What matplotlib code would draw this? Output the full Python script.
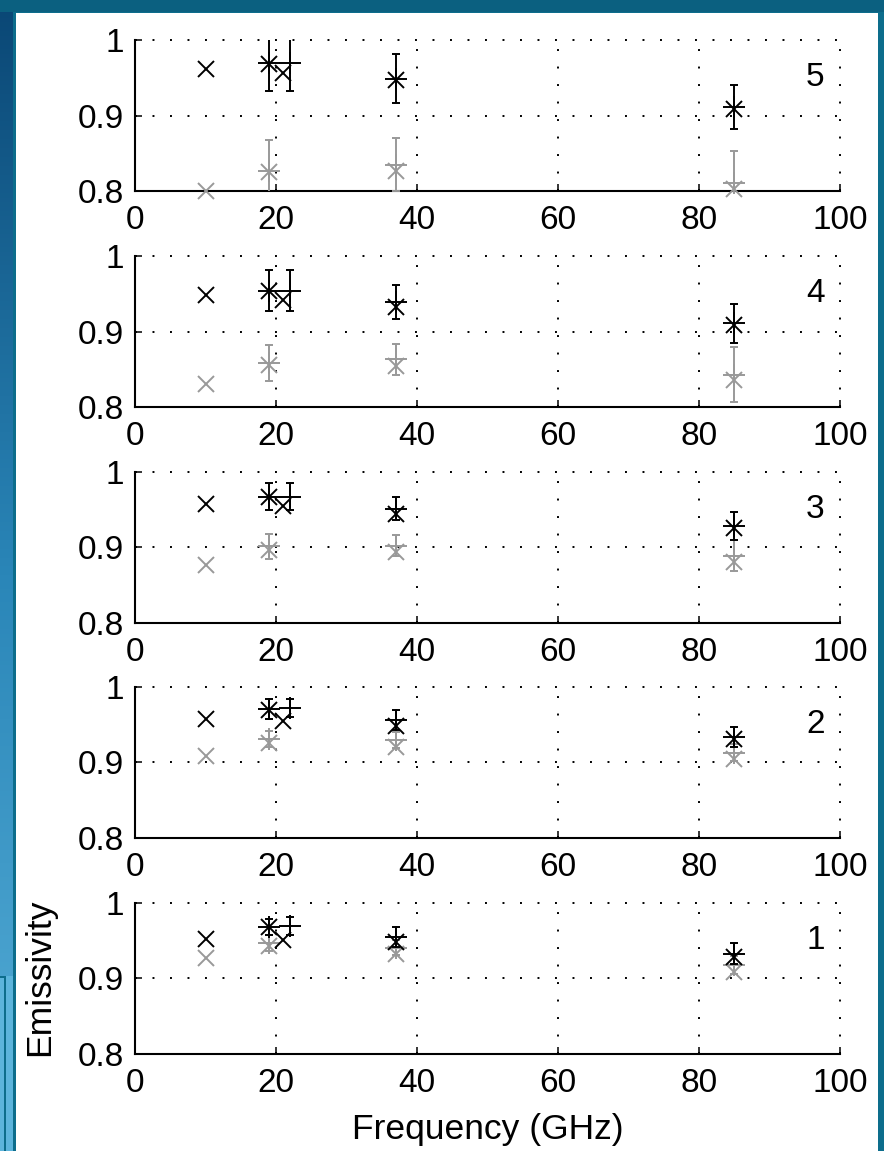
import numpy as np
import matplotlib
matplotlib.use("Agg")
import matplotlib.pyplot as plt
from matplotlib.colors import LinearSegmentedColormap

plt.rcParams['font.family'] = ['Liberation Sans', 'DejaVu Sans']

# ---------------- data ----------------
freq_x_v = [10, 19, 21, 37, 85]      # 'x' markers, vertical pol (black)
freq_x_h = [10, 19, 37, 85]          # 'x' markers, horizontal pol (gray)
freq_p_v = [19, 22, 37, 85]          # '+' with error bars, black
freq_p_h = [19, 37, 85]              # '+' with error bars, gray

panel_ids = [5, 4, 3, 2, 1]

xv = {1: [0.952, 0.968, 0.951, 0.949, 0.928],
      2: [0.958, 0.970, 0.955, 0.948, 0.931],
      3: [0.957, 0.966, 0.954, 0.944, 0.926],
      4: [0.948, 0.954, 0.942, 0.933, 0.908],
      5: [0.962, 0.968, 0.956, 0.947, 0.908]}

pv = {1: [0.968, 0.969, 0.955, 0.933],
      2: [0.971, 0.972, 0.956, 0.934],
      3: [0.967, 0.967, 0.951, 0.928],
      4: [0.954, 0.954, 0.939, 0.911],
      5: [0.969, 0.969, 0.949, 0.911]}
pv_err = {1: [0.011, 0.012, 0.013, 0.014],
          2: [0.013, 0.012, 0.013, 0.013],
          3: [0.018, 0.018, 0.015, 0.018],
          4: [0.027, 0.027, 0.023, 0.026],
          5: [0.037, 0.037, 0.032, 0.029]}

xh = {1: [0.927, 0.943, 0.932, 0.909],
      2: [0.908, 0.926, 0.921, 0.904],
      3: [0.876, 0.896, 0.894, 0.881],
      4: [0.831, 0.855, 0.854, 0.836],
      5: [0.800, 0.825, 0.826, 0.803]}

ph = {1: [0.947, 0.941, 0.918],
      2: [0.931, 0.930, 0.913],
      3: [0.901, 0.902, 0.889],
      4: [0.858, 0.863, 0.843],
      5: [0.827, 0.835, 0.810]}
ph_err = {1: [0.010, 0.010, 0.012],
          2: [0.011, 0.011, 0.011],
          3: [0.016, 0.014, 0.021],
          4: [0.024, 0.020, 0.037],
          5: [0.040, 0.035, 0.043]}

xticks = [0, 20, 40, 60, 80, 100]
xticklabels = ['0', '20', '40', '60', '80', '100']
yticks = [0.8, 0.9, 1.0]
yticklabels = ['0.8', '0.9', '1']

# ---------------- figure ----------------
W, H = 884, 1151
fig = plt.figure(figsize=(W / 100, H / 100), dpi=100)

# background decoration (pixel coordinates)
bg = fig.add_axes([0, 0, 1, 1], zorder=-10)
bg.set_xlim(0, W)
bg.set_ylim(H, 0)
bg.axis('off')
teal = '#0d6d8c'
bg.add_patch(plt.Rectangle((0, 0), W, H, color=teal, lw=0))
grad = LinearSegmentedColormap.from_list('g', ['#0a4775', '#2a86b8', '#56aed8'])
gvals = np.linspace(0, 1, 256).reshape(-1, 1)
bg.imshow(gvals, cmap=grad, extent=(0, 13, H, 0), aspect='auto', zorder=1)
bg.add_patch(plt.Rectangle((0, 0), W, 12, color='#0b6080', lw=0, zorder=2))
# lower-left box
bg.add_patch(plt.Rectangle((0, 976), 13, H - 976, color='#5cb4dc', lw=0, zorder=3))
bg.add_patch(plt.Rectangle((0, 976), 6, 2, color=teal, lw=0, zorder=4))
bg.add_patch(plt.Rectangle((4, 976), 2, H - 976, color=teal, lw=0, zorder=4))
# white panel
bg.add_patch(plt.Rectangle((16, 13), 862, H - 13, color='white', lw=0, zorder=5))

gray = '#999999'
ax_left = 135 / W
ax_w = 705 / W
ax_h = 151 / H
bottoms_px = [191, 407, 622.7, 838, 1054]

for pid, bpx in zip(panel_ids, bottoms_px):
    ax = fig.add_axes([ax_left, 1 - bpx / H, ax_w, ax_h])
    ax.set_facecolor('none')
    ax.set_xlim(0, 100)
    ax.set_ylim(0.8, 1.0)
    ax.set_xticks(xticks)
    ax.set_xticklabels(xticklabels)
    ax.set_yticks(yticks)
    ax.set_yticklabels(yticklabels)
    ax.tick_params(direction='in', length=5, width=1.1, labelsize=24,
                   colors='black')
    ax.tick_params(axis='x', pad=10)
    ax.tick_params(axis='y', pad=8)
    for s in ['top', 'right']:
        ax.spines[s].set_visible(False)
    for s in ['left', 'bottom']:
        ax.spines[s].set_linewidth(1.5)
    ax.grid(True, color='black', linestyle=(0, (1, 8)), linewidth=1.4)
    for gl in ax.get_xgridlines() + ax.get_ygridlines():
        gl.set_clip_on(False)

    # gray (H) series
    ax.errorbar(freq_p_h, ph[pid], yerr=ph_err[pid], fmt='none', ecolor=gray,
                elinewidth=1.4, capsize=3.2, capthick=1.4, zorder=3)
    ax.plot(freq_p_h, ph[pid], '+', color=gray, ms=16, mew=1.4, clip_on=False, zorder=3)
    ax.plot(freq_x_h, xh[pid], 'x', color=gray, ms=11, mew=1.4, clip_on=False, zorder=3)

    # black (V) series
    ax.errorbar(freq_p_v, pv[pid], yerr=pv_err[pid], fmt='none', ecolor='black',
                elinewidth=1.4, capsize=3.2, capthick=1.4, zorder=4)
    ax.plot(freq_p_v, pv[pid], '+', color='black', ms=16, mew=1.4, clip_on=False, zorder=4)
    ax.plot(freq_x_v, xv[pid], 'x', color='black', ms=11, mew=1.4, clip_on=False, zorder=4)

    ax.text(96.5, 0.95, str(pid), fontsize=24, ha='center', va='center')

fig.text(40 / W, 1 - 977 / H, 'Emissivity', rotation=90, fontsize=25.5,
         ha='center', va='center')
fig.text(488 / W, 1 - 1130 / H, 'Frequency (GHz)', fontsize=25.5,
         ha='center', va='center')

fig.savefig('out.png', dpi=100)
